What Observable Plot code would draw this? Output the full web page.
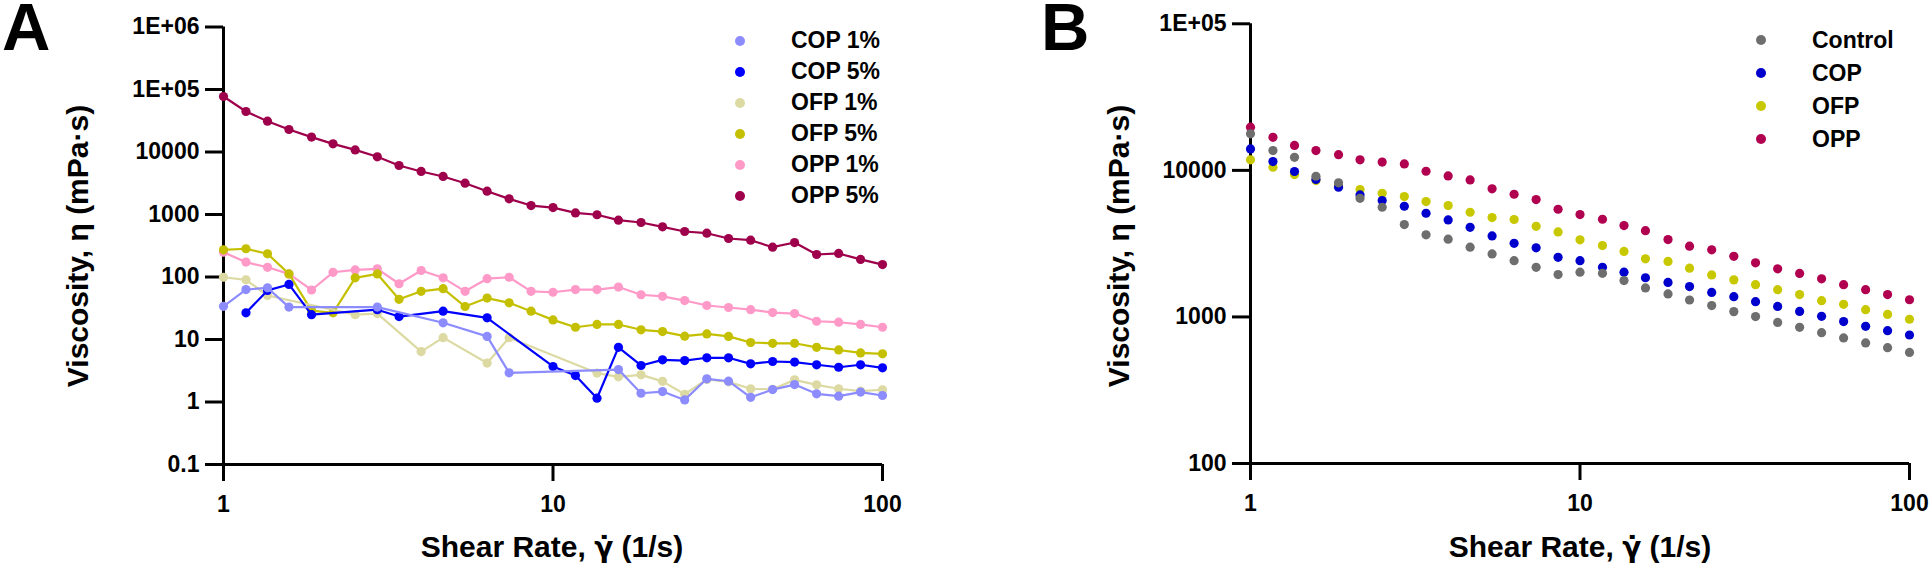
<!DOCTYPE html>
<html><head><meta charset="utf-8">
<script src="https://cdn.jsdelivr.net/npm/d3@7"></script>
<script src="https://cdn.jsdelivr.net/npm/@observablehq/plot@0.6"></script>
<style>
body{margin:0;background:#fff;}
#page{position:relative;width:1929px;height:566px;overflow:hidden;font-family:"Liberation Sans",Arial,sans-serif;font-weight:bold;color:#000;background:#fff;}
.panel{position:absolute;top:0;}
.letter{position:absolute;font-size:67px;line-height:50px;}
.ytitle{position:absolute;font-size:30px;line-height:30px;white-space:nowrap;transform:translate(-50%,-50%) rotate(-90deg);}
.xtitle{position:absolute;font-size:30px;line-height:30px;white-space:nowrap;transform:translateX(-50%);}
.gam{font-family:"DejaVu Sans",sans-serif;font-size:28px;}
.legrow{position:absolute;font-size:23px;line-height:23px;white-space:nowrap;}
.legdot{position:absolute;width:10px;height:10px;border-radius:50%;}
</style></head>
<body>
<div id="page"></div>
<script>
// ---- shared x values (shear rate, 1/s) ----
const shear = [1, 1.17, 1.36, 1.58, 1.85, 2.15, 2.51, 2.93, 3.41, 3.98, 4.64, 5.41, 6.31, 7.36, 8.58,
  10, 11.7, 13.6, 15.8, 18.5, 21.5, 25.1, 29.3, 34.1, 39.8, 46.4, 54.1, 63.1, 73.6, 85.8, 100];

// ---- Panel A series (mPa·s), null = no point ----
const cop1 = [34, 63, 67, 33, null, null, null, 33, null, null, 18.5, null, 11.2, 2.93, null,
  null, null, null, 3.3, 1.38, 1.47, 1.08, 2.35, 2.15, 1.19, 1.58, 1.9, 1.35, 1.24, 1.44, 1.27];
const cop5 = [null, 26.7, 61, 76, 25, null, null, 30, 23.3, null, 28.4, null, 22.2, null, null,
  3.7, 2.65, 1.15, 7.5, 3.84, 4.73, 4.6, 5.1, 5.1, 4.08, 4.45, 4.35, 3.94, 3.6, 3.94, 3.52];
const ofp1 = [99, 90, 50.6, null, null, null, 25, 26, null, 6.4, 10.7, null, 4.2, 10.7, null,
  null, null, 2.9, 2.53, 2.72, 2.14, 1.33, 2.3, 2.1, 1.63, 1.6, 2.26, 1.88, 1.63, 1.49, 1.57];
const ofp5 = [272, 283, 235, 112, 29, 26.7, 97, 112, 44, 59, 65, 33.7, 46, 38.6, 28.4,
  20.6, 15.7, 17.4, 17.4, 14.3, 13.4, 11.3, 12.3, 11.2, 8.96, 8.7, 8.7, 7.5, 6.8, 6.1, 5.9];
const opp1 = [249, 173, 143, 112, 62, 119, 130, 135, 78, 127, 97, 59, 94, 99, 59,
  57, 63, 63, 69, 52, 49, 42, 35, 32.5, 30, 27, 26, 19.6, 18.9, 17.4, 15.7];
const opp5 = [77300, 44500, 31100, 22900, 17300, 13500, 10800, 8380, 6080, 4880, 4060, 3170, 2360, 1780, 1390,
  1290, 1060, 990, 811, 745, 635, 535, 502, 413, 388, 300, 356, 229, 238, 191, 158];

const namesA = ["COP 1%", "COP 5%", "OFP 1%", "OFP 5%", "OPP 1%", "OPP 5%"];
const colorsA = ["#8c8cff", "#0000ff", "#dcdaa2", "#c4c000", "#ff99c8", "#9e004b"];
const valuesA = [cop1, cop5, ofp1, ofp5, opp1, opp5];

const yTicksA = [0.1, 1, 10, 100, 1000, 10000, 100000, 1000000];
const yTickLabelsA = ["0.1", "1", "10", "100", "1000", "10000", "1E+05", "1E+06"];

// ---- Panel B series (mPa·s) ----
const control = [17750, 13650, 12280, 9120, 8220, 6450, 5600, 4270, 3630, 3390, 2990, 2690, 2420, 2180, 1945,
  2020, 1985, 1770, 1578, 1435, 1305, 1195, 1087, 1005, 918, 849, 781, 719, 665, 617, 573];
const cop = [14000, 11480, 9820, 8660, 7670, 6800, 6220, 5690, 5100, 4590, 4090, 3570, 3180, 2960, 2550,
  2420, 2180, 2020, 1850, 1720, 1610, 1470, 1375, 1270, 1180, 1090, 1010, 929, 863, 806, 753];
const ofp = [11800, 10500, 9360, 8520, 7960, 7390, 6980, 6630, 6120, 5750, 5180, 4760, 4620, 4150, 3800,
  3360, 3070, 2800, 2490, 2390, 2150, 1935, 1790, 1660, 1535, 1420, 1290, 1220, 1120, 1040, 964];
const opp = [19700, 16800, 14800, 13650, 12800, 11800, 11400, 11070, 9860, 9170, 8610, 7480, 6870, 6320, 5430,
  4990, 4640, 4200, 3880, 3370, 3040, 2870, 2590, 2340, 2130, 1980, 1820, 1660, 1535, 1420, 1310];

const namesB = ["Control", "COP", "OFP", "OPP"];
const colorsB = ["#6e6e6e", "#0000cc", "#c8c800", "#b0004f"];
const valuesB = [control, cop, ofp, opp];

const yTicksB = [100, 1000, 10000, 100000];
const yTickLabelsB = ["100", "1000", "10000", "1E+05"];

const xTicks = [1, 10, 100];
const xTickLabels = ["1", "10", "100"];

const xTitleParts = ["Shear Rate, ", "\u03B3\u0307", " (1/s)"];
const yTitle = "Viscosity, \u03B7 (mPa\u00B7s)";

// ---- build ----
const page = document.getElementById("page");
const FONT = "Liberation Sans, Arial, sans-serif";

function rowsOf(vals) {
  return vals.map((v, i) => ({x: shear[i], y: v})).filter(d => d.y != null);
}

function axes(yTicks, yLabels) {
  const common = {fontSize: 23, fontWeight: "bold", fontFamily: FONT, strokeWidth: 3, label: null, fill: "black", stroke: "black"};
  return [
    Plot.axisY({...common, ticks: yTicks, tickFormat: d => yLabels[yTicks.indexOf(d)], tickSize: 18, tickPadding: 6}),
    Plot.axisX({...common, ticks: xTicks, tickFormat: d => xTickLabels[xTicks.indexOf(d)], tickSize: 17, tickPadding: 14}),
    Plot.ruleX([1], {strokeWidth: 3, stroke: "black"}),
    Plot.ruleY([yTicks[0]], {strokeWidth: 3, stroke: "black"})
  ];
}

// Panel A
const marksA = [];
for (let k = valuesA.length - 1; k >= 0; k--) {
  const rows = rowsOf(valuesA[k]);
  marksA.push(Plot.line(rows, {x: "x", y: "y", stroke: colorsA[k], strokeWidth: 2.2}));
  marksA.push(Plot.dot(rows, {x: "x", y: "y", fill: colorsA[k], r: 4.6}));
}
const plotA = Plot.plot({
  width: 960, height: 566,
  marginLeft: 223, marginRight: 78, marginTop: 26.5, marginBottom: 102,
  x: {type: "log", domain: [1, 100]},
  y: {type: "log", domain: [0.1, 1e6]},
  style: {fontFamily: FONT, fontWeight: "bold", fontSize: "23px", color: "black", background: "transparent"},
  marks: [...axes(yTicksA, yTickLabelsA), ...marksA]
});
const divA = document.createElement("div");
divA.className = "panel"; divA.style.left = "0px";
divA.appendChild(plotA);
page.appendChild(divA);

// Panel B
const marksB = [];
for (let k = valuesB.length - 1; k >= 0; k--) {
  marksB.push(Plot.dot(rowsOf(valuesB[k]), {x: "x", y: "y", fill: colorsB[k], r: 4.6}));
}
const plotB = Plot.plot({
  width: 964, height: 566,
  marginLeft: 285, marginRight: 20, marginTop: 23.3, marginBottom: 103,
  x: {type: "log", domain: [1, 100]},
  y: {type: "log", domain: [100, 1e5]},
  style: {fontFamily: FONT, fontWeight: "bold", fontSize: "23px", color: "black", background: "transparent"},
  marks: [...axes(yTicksB, yTickLabelsB), ...marksB]
});
const divB = document.createElement("div");
divB.className = "panel"; divB.style.left = "965px";
divB.appendChild(plotB);
page.appendChild(divB);

// ---- text: panel letters, titles, legends ----
function addText(cls, txt, left, top) {
  const d = document.createElement("div");
  d.className = cls; d.textContent = txt;
  d.style.left = left + "px"; d.style.top = top + "px";
  page.appendChild(d);
  return d;
}
function addXTitle(left, top) {
  const d = document.createElement("div");
  d.className = "xtitle";
  d.style.left = left + "px"; d.style.top = top + "px";
  d.appendChild(document.createTextNode(xTitleParts[0]));
  const g = document.createElement("span"); g.className = "gam";
  g.textContent = xTitleParts[1];
  d.appendChild(g);
  d.appendChild(document.createTextNode(xTitleParts[2]));
  page.appendChild(d);
}
addText("letter", "A", 2, 2);
addText("letter", "B", 1041, 2);
addText("ytitle", yTitle, 78, 246);
addText("ytitle", yTitle, 1119, 246);
addXTitle(552, 532);
addXTitle(1580, 532);

function legend(names, colors, dotX, textX, y0, dy) {
  names.forEach((n, i) => {
    const y = y0 + i * dy;
    const dot = document.createElement("div");
    dot.className = "legdot";
    dot.style.background = colors[i];
    dot.style.left = (dotX - 5) + "px"; dot.style.top = (y - 5) + "px";
    page.appendChild(dot);
    addText("legrow", n, textX, y - 11.5);
  });
}
legend(namesA, colorsA, 740, 791, 40.7, 31);
legend(namesB, colorsB, 1761, 1812, 40, 33);
</script>
</body></html>
